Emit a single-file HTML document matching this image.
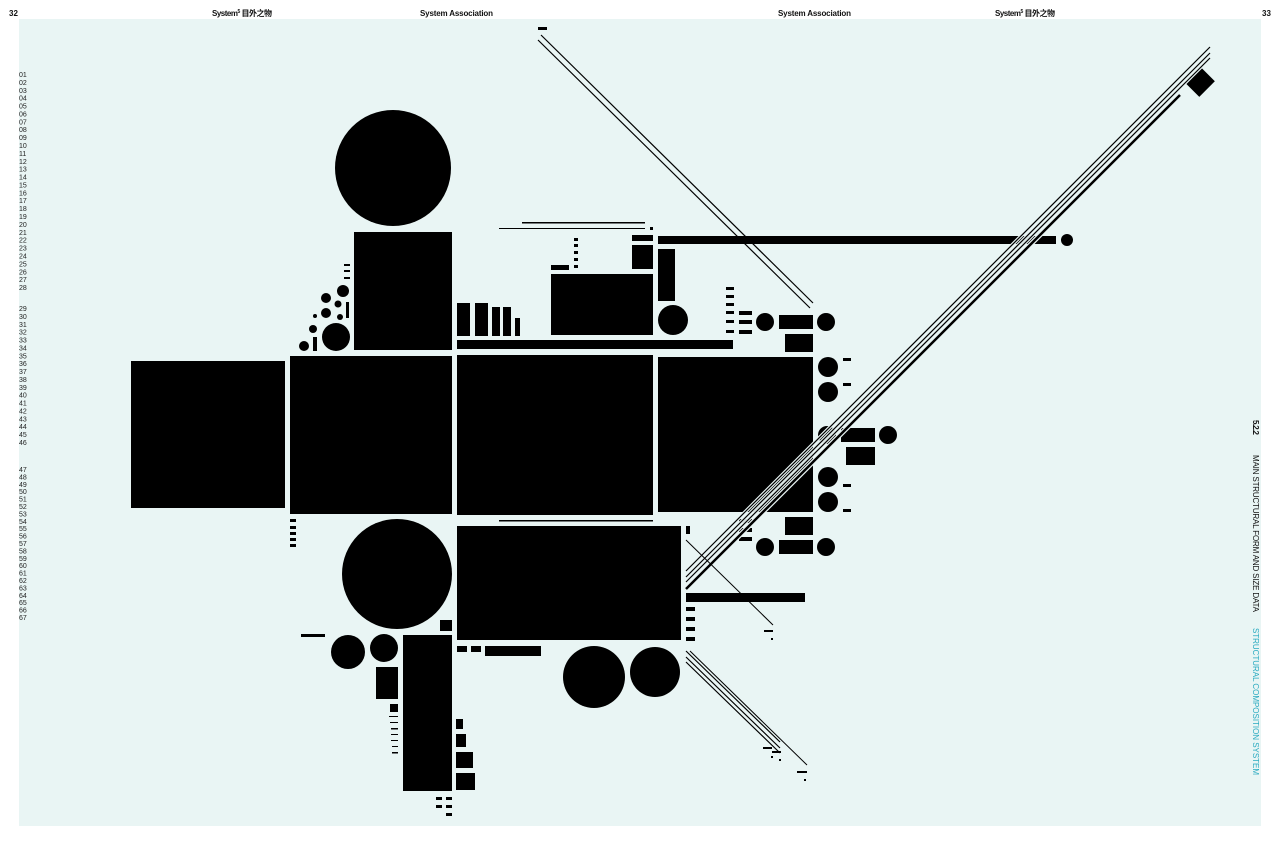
<!DOCTYPE html>
<html><head><meta charset="utf-8"><style>
html,body{margin:0;padding:0;background:#fff;}
svg{display:block;}
text{font-family:"Liberation Sans","Noto Sans CJK SC",sans-serif;}
</style></head><body>
<svg width="1280" height="845" viewBox="0 0 1280 845" xmlns="http://www.w3.org/2000/svg">
<rect x="19" y="19" width="1242" height="807" fill="#e9f5f4"/>
<g font-size="8" font-weight="bold" fill="#111">
<text x="9" y="16">32</text>
<text x="212" y="16" textLength="60">System<tspan font-size="5" dy="-3">5</tspan><tspan dy="3"> 目外之物</tspan></text>
<text x="420" y="16" textLength="73">System Association</text>
<text x="778" y="16" textLength="73">System Association</text>
<text x="995" y="16" textLength="60">System<tspan font-size="5" dy="-3">5</tspan><tspan dy="3"> 目外之物</tspan></text>
<text x="1262" y="16">33</text>
</g>
<g font-size="7" fill="#222">
<text x="19" y="77">01<tspan x="19" dy="7.89">02</tspan><tspan x="19" dy="7.89">03</tspan><tspan x="19" dy="7.89">04</tspan><tspan x="19" dy="7.89">05</tspan><tspan x="19" dy="7.89">06</tspan><tspan x="19" dy="7.89">07</tspan><tspan x="19" dy="7.89">08</tspan><tspan x="19" dy="7.89">09</tspan><tspan x="19" dy="7.89">10</tspan><tspan x="19" dy="7.89">11</tspan><tspan x="19" dy="7.89">12</tspan><tspan x="19" dy="7.89">13</tspan><tspan x="19" dy="7.89">14</tspan><tspan x="19" dy="7.89">15</tspan><tspan x="19" dy="7.89">16</tspan><tspan x="19" dy="7.89">17</tspan><tspan x="19" dy="7.89">18</tspan><tspan x="19" dy="7.89">19</tspan><tspan x="19" dy="7.89">20</tspan><tspan x="19" dy="7.89">21</tspan><tspan x="19" dy="7.89">22</tspan><tspan x="19" dy="7.89">23</tspan><tspan x="19" dy="7.89">24</tspan><tspan x="19" dy="7.89">25</tspan><tspan x="19" dy="7.89">26</tspan><tspan x="19" dy="7.89">27</tspan><tspan x="19" dy="7.89">28</tspan></text>
<text x="19" y="311">29<tspan x="19" dy="7.88">30</tspan><tspan x="19" dy="7.88">31</tspan><tspan x="19" dy="7.88">32</tspan><tspan x="19" dy="7.88">33</tspan><tspan x="19" dy="7.88">34</tspan><tspan x="19" dy="7.88">35</tspan><tspan x="19" dy="7.88">36</tspan><tspan x="19" dy="7.88">37</tspan><tspan x="19" dy="7.88">38</tspan><tspan x="19" dy="7.88">39</tspan><tspan x="19" dy="7.88">40</tspan><tspan x="19" dy="7.88">41</tspan><tspan x="19" dy="7.88">42</tspan><tspan x="19" dy="7.88">43</tspan><tspan x="19" dy="7.88">44</tspan><tspan x="19" dy="7.88">45</tspan><tspan x="19" dy="7.88">46</tspan></text>
<text x="19" y="472">47<tspan x="19" dy="7.4">48</tspan><tspan x="19" dy="7.4">49</tspan><tspan x="19" dy="7.4">50</tspan><tspan x="19" dy="7.4">51</tspan><tspan x="19" dy="7.4">52</tspan><tspan x="19" dy="7.4">53</tspan><tspan x="19" dy="7.4">54</tspan><tspan x="19" dy="7.4">55</tspan><tspan x="19" dy="7.4">56</tspan><tspan x="19" dy="7.4">57</tspan><tspan x="19" dy="7.4">58</tspan><tspan x="19" dy="7.4">59</tspan><tspan x="19" dy="7.4">60</tspan><tspan x="19" dy="7.4">61</tspan><tspan x="19" dy="7.4">62</tspan><tspan x="19" dy="7.4">63</tspan><tspan x="19" dy="7.4">64</tspan><tspan x="19" dy="7.4">65</tspan><tspan x="19" dy="7.4">66</tspan><tspan x="19" dy="7.4">67</tspan></text>
</g>
<g font-size="8" transform="translate(1253,420) rotate(90)">
<text x="0" y="0" font-weight="bold" fill="#111" textLength="15">5.2.2</text>
<text x="35" y="0" fill="#111" textLength="157">MAIN STRUCTURAL FORM AND SIZE DATA</text>
<text x="208" y="0" fill="#29aac0" textLength="147">STRUCTURAL COMPOSITION SYSTEM</text>
</g>
<g fill="#000">
<circle cx="393" cy="168" r="58"/>
<rect x="354" y="232" width="98" height="118"/>
<rect x="131" y="361" width="154" height="147"/>
<rect x="290" y="356" width="162" height="158"/>
<rect x="457" y="355" width="196" height="160"/>
<rect x="658" y="357" width="155" height="155"/>
<rect x="457" y="340" width="276" height="9"/>
<rect x="457" y="303" width="13" height="33"/>
<rect x="475" y="303" width="13" height="33"/>
<rect x="492" y="307" width="8" height="29"/>
<rect x="503" y="307" width="8" height="29"/>
<rect x="515" y="318" width="5" height="18"/>
<rect x="551" y="274" width="102" height="61"/>
<rect x="551" y="265" width="18" height="5"/>
<rect x="574" y="238" width="4" height="3"/><rect x="574" y="244" width="4" height="3"/><rect x="574" y="251" width="4" height="3"/><rect x="574" y="258" width="4" height="3"/><rect x="574" y="265" width="4" height="3"/>
<rect x="522" y="222" width="123" height="1.5"/>
<rect x="499" y="228" width="146" height="1"/>
<rect x="650" y="227" width="3" height="3"/>
<rect x="632" y="235" width="21" height="6"/>
<rect x="632" y="245" width="21" height="24"/>
<rect x="658" y="249" width="17" height="52"/>
<circle cx="673" cy="320" r="15"/>
<rect x="658" y="236" width="398" height="8"/>
<circle cx="1067" cy="240" r="6"/>
<circle cx="343" cy="291" r="6"/><circle cx="326" cy="298" r="5"/><circle cx="338" cy="304" r="3.5"/><circle cx="326" cy="313" r="5"/><circle cx="315" cy="316" r="2"/><circle cx="340" cy="317" r="3"/><circle cx="313" cy="329" r="4"/><circle cx="336" cy="337" r="14"/><circle cx="304" cy="346" r="5"/>
<rect x="313" y="337" width="4" height="14"/><rect x="346" y="302" width="3" height="16"/>
<rect x="344" y="264" width="6" height="2"/><rect x="344" y="270" width="6" height="2"/><rect x="344" y="277" width="6" height="2"/>
<rect x="726" y="287" width="8" height="3"/><rect x="726" y="295" width="8" height="3"/><rect x="726" y="303" width="8" height="3"/><rect x="726" y="311" width="8" height="3"/><rect x="726" y="320" width="8" height="3"/><rect x="726" y="330" width="8" height="3"/>
<rect x="739" y="311" width="13" height="4"/><rect x="739" y="320" width="13" height="4"/><rect x="739" y="330" width="13" height="4"/>
<circle cx="765" cy="322" r="9"/><rect x="779" y="315" width="34" height="14"/><circle cx="826" cy="322" r="9"/>
<rect x="785" y="334" width="28" height="18"/>
<circle cx="828" cy="367" r="10"/><rect x="843" y="358" width="8" height="3"/>
<circle cx="828" cy="392" r="10"/><rect x="843" y="383" width="8" height="3"/>
<circle cx="827" cy="435" r="9"/><rect x="841" y="428" width="34" height="14"/><circle cx="888" cy="435" r="9"/>
<rect x="846" y="447" width="29" height="18"/>
<circle cx="828" cy="477" r="10"/><rect x="843" y="484" width="8" height="3"/>
<circle cx="828" cy="502" r="10"/><rect x="843" y="509" width="8" height="3"/>
<rect x="785" y="517" width="28" height="18"/>
<rect x="739" y="519" width="13" height="4"/><rect x="739" y="528" width="13" height="4"/><rect x="739" y="537" width="13" height="4"/>
<circle cx="765" cy="547" r="9"/><rect x="779" y="540" width="34" height="14"/><circle cx="826" cy="547" r="9"/>
<rect x="290" y="519" width="6" height="3"/><rect x="290" y="526" width="6" height="3"/><rect x="290" y="532" width="6" height="3"/><rect x="290" y="538" width="6" height="3"/><rect x="290" y="544" width="6" height="3"/>
<circle cx="397" cy="574" r="55"/>
<rect x="499" y="520" width="154" height="1.5"/>
<rect x="457" y="526" width="224" height="114"/>
<rect x="686" y="526" width="4" height="8"/>
<rect x="440" y="620" width="12" height="11"/>
<rect x="301" y="634" width="24" height="3"/>
<circle cx="348" cy="652" r="17"/><circle cx="384" cy="648" r="14"/>
<rect x="403" y="635" width="49" height="156"/>
<rect x="376" y="667" width="22" height="32"/>
<rect x="390" y="704" width="8" height="8"/>
<rect x="389" y="716" width="9" height="1"/><rect x="390" y="722" width="8" height="1"/><rect x="391" y="728" width="7" height="1.5"/><rect x="391" y="734" width="7" height="1"/><rect x="391" y="740" width="7" height="1"/><rect x="392" y="746" width="6" height="1"/><rect x="392" y="752" width="6" height="1.5"/>
<rect x="457" y="646" width="10" height="6"/><rect x="471" y="646" width="10" height="6"/><rect x="485" y="646" width="56" height="10"/>
<circle cx="594" cy="677" r="31"/><circle cx="655" cy="672" r="25"/>
<rect x="686" y="593" width="119" height="9"/>
<rect x="686" y="607" width="9" height="4"/><rect x="686" y="617" width="9" height="4"/><rect x="686" y="627" width="9" height="4"/><rect x="686" y="637" width="9" height="4"/>
<rect x="456" y="719" width="7" height="10"/><rect x="456" y="734" width="10" height="13"/><rect x="456" y="752" width="17" height="16"/><rect x="456" y="773" width="19" height="17"/>
<rect x="436" y="797" width="6" height="3"/><rect x="446" y="797" width="6" height="3"/><rect x="436" y="805" width="6" height="3"/><rect x="446" y="805" width="6" height="3"/><rect x="446" y="813" width="6" height="3"/>
<rect x="538" y="27" width="9" height="3"/>
<rect x="1189" y="72" width="22" height="20" transform="rotate(-45 1200 82)"/>
<rect x="764" y="630" width="9" height="2"/><rect x="771" y="638" width="2" height="2"/>
<rect x="763" y="747" width="9" height="2"/><rect x="772" y="751" width="9" height="2"/><rect x="771" y="756" width="2" height="2"/><rect x="779" y="759" width="2" height="2"/>
<rect x="797" y="771" width="10" height="2"/><rect x="804" y="779" width="2" height="2"/>
</g>
<g stroke-linecap="butt" fill="none">
<g stroke="#e9f5f4" stroke-width="3.5">
<line x1="1210" y1="47" x2="686" y2="571"/>
<line x1="1210" y1="53" x2="686" y2="577"/>
<line x1="1210" y1="58" x2="686" y2="582"/>
<line x1="1180" y1="95" x2="686" y2="589" stroke-width="5"/>
</g>
<g stroke="#000">
<line x1="1210" y1="47" x2="686" y2="571" stroke-width="1.2"/>
<line x1="1210" y1="53" x2="686" y2="577" stroke-width="1.2"/>
<line x1="1210" y1="58" x2="686" y2="582" stroke-width="1.2"/>
<line x1="1180" y1="95" x2="686" y2="589" stroke-width="2.5"/>
<line x1="541" y1="35" x2="813" y2="303" stroke-width="1.2"/>
<line x1="538" y1="40" x2="810" y2="308" stroke-width="1.2"/>
<line x1="686" y1="540" x2="773" y2="625" stroke-width="1"/>
<line x1="686" y1="651" x2="780" y2="742" stroke-width="1.2"/>
<line x1="686" y1="657" x2="780" y2="748" stroke-width="1.2"/>
<line x1="686" y1="662" x2="780" y2="753" stroke-width="1.2"/>
<line x1="690" y1="651" x2="807" y2="765" stroke-width="1"/>
</g>
</g>
</svg>
</body></html>
